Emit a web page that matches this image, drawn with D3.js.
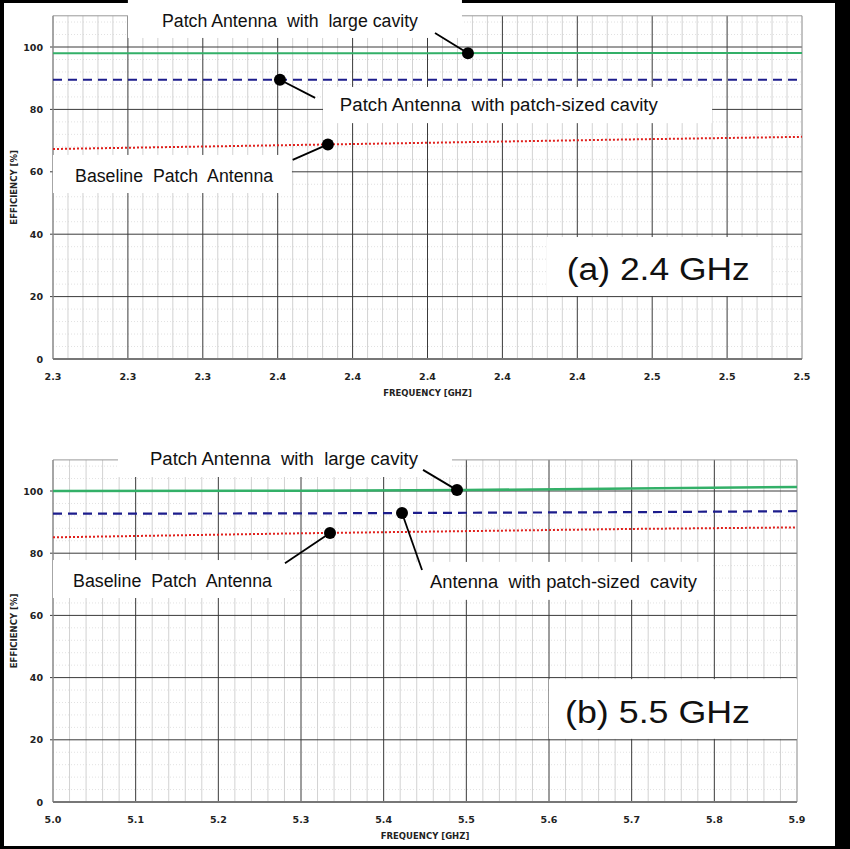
<!DOCTYPE html>
<html>
<head>
<meta charset="utf-8">
<script src="https://cdn.jsdelivr.net/npm/d3@7"></script>
<style>
  body { margin: 0; background: #000; }
  svg { display: block; }
  .tickLbl { font-family: "DejaVu Sans", Verdana, sans-serif; font-weight: bold; font-size: 9.5px; fill: #222; }
  .axTitle { font-family: "DejaVu Sans", Verdana, sans-serif; font-weight: bold; font-size: 8.5px; fill: #222; }
  .note { font-family: "Liberation Sans", Arial, sans-serif; font-size: 18px; fill: #111; white-space: pre; }
  .big { font-family: "Liberation Sans", Arial, sans-serif; font-size: 31px; fill: #111; }
</style>
</head>
<body>
<svg id="chart" width="850" height="849"></svg>
<script>
// ---- data, panel (a) 2.4 GHz ----
freqA = [2.30, 2.35, 2.40, 2.45, 2.50];
largeA = [98.0, 98.0, 98.0, 98.1, 98.1];
patchA = [89.5, 89.5, 89.5, 89.5, 89.5];
baseA = [67.3, 68.3, 69.3, 70.3, 71.2];
xTicksA = [2.30, 2.32, 2.34, 2.36, 2.38, 2.40, 2.42, 2.44, 2.46, 2.48, 2.50];

// ---- data, panel (b) 5.5 GHz ----
freqB = [5.0, 5.3, 5.5, 5.7, 5.9];
largeB = [100.0, 100.1, 100.3, 100.8, 101.3];
patchB = [92.7, 92.8, 93.0, 93.2, 93.5];
baseB = [85.1, 86.4, 87.1, 87.8, 88.3];
xTicksB = [5.0, 5.1, 5.2, 5.3, 5.4, 5.5, 5.6, 5.7, 5.8, 5.9];

yTicks = [0, 20, 40, 60, 80, 100];
yMax = 110;

seriesStyle = {
    large: { color: "#33b068", dash: null },
    patch: { color: "#1c1c8c", dash: "9,6" },
    base:  { color: "#e0201c", dash: "2,2" }
};

svg = d3.select("#chart");
svg.append("rect").attr("x", 4).attr("y", 3).attr("width", 831).attr("height", 843).attr("fill", "#fff");

function valueAt(freqs, vals, f) {
    return d3.scaleLinear().domain(freqs).range(vals)(f);
}

function drawPanel(p) {
    x = d3.scaleLinear().domain([p.ticks[0], p.ticks[p.ticks.length - 1]]).range([p.left, p.right]);
    y = d3.scaleLinear().domain([0, yMax]).range([p.bottom, p.bottom - yMax * p.unit]);
    g = svg.append("g");
    x0 = x.range()[0]; x1 = x.range()[1];

    // minor horizontal grid (dotted, faint)
    minorY = d3.range(4, yMax, 4).filter(v => v % 20 != 0);
    g.selectAll(".mh").data(minorY).enter().append("line")
        .attr("x1", x0).attr("x2", x1).attr("y1", d => y(d)).attr("y2", d => y(d))
        .attr("stroke", "#e2e2e2").attr("stroke-dasharray", "1,2");

    // minor vertical grid
    nMinor = (p.ticks.length - 1) * 5;
    minorX = d3.range(0, nMinor + 1).filter(i => i % 5 != 0)
        .map(i => p.ticks[0] + i * (p.ticks[1] - p.ticks[0]) / 5);
    g.selectAll(".mv").data(minorX).enter().append("line")
        .attr("x1", d => x(d)).attr("x2", d => x(d)).attr("y1", y(yMax)).attr("y2", y(0))
        .attr("stroke", "#d2d2d2");

    // major vertical grid
    g.selectAll(".Mv").data(p.ticks.slice(1, -1)).enter().append("line")
        .attr("x1", d => x(d)).attr("x2", d => x(d)).attr("y1", y(yMax)).attr("y2", y(0))
        .attr("stroke", "#3a3a3a");

    // major horizontal grid
    g.selectAll(".Mh").data(yTicks.slice(1)).enter().append("line")
        .attr("x1", x0 - 3).attr("x2", x1).attr("y1", d => y(d)).attr("y2", d => y(d))
        .attr("stroke", "#3a3a3a");

    // frame of the plot area
    g.append("line").attr("x1", x0).attr("x2", x1).attr("y1", y(yMax)).attr("y2", y(yMax)).attr("stroke", "#999");
    g.append("line").attr("x1", x1).attr("x2", x1).attr("y1", y(yMax)).attr("y2", y(0)).attr("stroke", "#888");
    g.append("line").attr("x1", x0).attr("x2", x0).attr("y1", y(yMax)).attr("y2", y(0)).attr("stroke", "#888").attr("stroke-width", 1.5);
    g.append("line").attr("x1", x0).attr("x2", x1).attr("y1", y(0)).attr("y2", y(0)).attr("stroke", "#777").attr("stroke-width", 2);

    // white label boxes
    g.selectAll(".box").data(p.boxes).enter().append("rect")
        .attr("x", d => x(d[0])).attr("y", d => y(d[3]))
        .attr("width", d => x(d[1]) - x(d[0])).attr("height", d => y(d[2]) - y(d[3]))
        .attr("fill", "#fff");

    // series
    p.series.forEach(s => {
        st = seriesStyle[s.key];
        g.append("path")
            .datum(p.freqs.map((f, i) => [f, s.vals[i]]))
            .attr("fill", "none")
            .attr("stroke", st.color)
            .attr("stroke-width", s.w)
            .attr("stroke-dasharray", st.dash)
            .attr("d", d3.line().x(d => x(d[0])).y(d => y(d[1])));
    });

    // annotations: leader line + dot + label
    p.notes.forEach(n => {
        s = p.series.find(q => q.key == n.key);
        dv = valueAt(p.freqs, s.vals, n.dot);
        g.append("line")
            .attr("x1", x(n.lead[0])).attr("y1", y(n.lead[1]))
            .attr("x2", x(n.dot)).attr("y2", y(dv))
            .attr("stroke", "#000").attr("stroke-width", 1.8);
        g.append("circle").attr("cx", x(n.dot)).attr("cy", y(dv)).attr("r", 6).attr("fill", "#000");
        g.append("text").attr("class", "note")
            .attr("x", x(n.at[0])).attr("y", y(n.at[1]))
            .attr("textLength", n.len).attr("lengthAdjust", "spacingAndGlyphs")
            .text(n.text);
    });

    g.append("text").attr("class", "big")
        .attr("x", x(p.title.at[0])).attr("y", y(p.title.at[1]))
        .attr("textLength", p.title.len).attr("lengthAdjust", "spacingAndGlyphs")
        .text(p.title.text);

    // tick labels
    g.selectAll(".yl").data(yTicks).enter().append("text").attr("class", "tickLbl")
        .attr("x", x0 - 10).attr("y", d => y(d) + 3.5).attr("text-anchor", "end")
        .text(d => d);
    g.selectAll(".xl").data(p.ticks).enter().append("text").attr("class", "tickLbl")
        .attr("x", d => x(d)).attr("y", y(0) + 21).attr("text-anchor", "middle")
        .text(d3.format(".1f"));

    // axis titles
    g.append("text").attr("class", "axTitle").attr("text-anchor", "middle")
        .attr("x", (x0 + x1) / 2).attr("y", y(0) + 37)
        .text("FREQUENCY [GHZ]");
    g.append("text").attr("class", "axTitle").attr("text-anchor", "middle")
        .attr("transform", "translate(17," + ((y(0) + y(yMax)) / 2) + ") rotate(-90)")
        .text("EFFICIENCY [%]");
}

drawPanel({
    left: 53, right: 802, bottom: 359, unit: 3.12,
    ticks: xTicksA, freqs: freqA,
    series: [{ key: "large", vals: largeA, w: 2 }, { key: "patch", vals: patchA, w: 2 }, { key: "base", vals: baseA, w: 2 }],
    boxes: [[2.3200, 2.4092, 102.9, 115.1], [2.3721, 2.4760, 75.6, 87.2],
            [2.3000, 2.3638, 53.2, 65.4], [2.4319, 2.4917, 20.2, 39.1]],
    notes: [
        { key: "large", dot: 2.4108, lead: [2.4020, 104.5], at: [2.3291, 106.4], len: 256, text: "Patch Antenna  with  large cavity" },
        { key: "patch", dot: 2.3606, lead: [2.3700, 83.7], at: [2.3766, 79.5], len: 318, text: "Patch Antenna  with patch-sized cavity" },
        { key: "base", dot: 2.3734, lead: [2.3640, 63.8], at: [2.3059, 56.7], len: 198, text: "Baseline  Patch  Antenna" }
    ],
    title: { text: "(a) 2.4 GHz", at: [2.4372, 25.3], len: 183 }
});

drawPanel({
    left: 53, right: 797, bottom: 802, unit: 3.11,
    ticks: xTicksB, freqs: freqB,
    series: [{ key: "large", vals: largeB, w: 2.6 }, { key: "patch", vals: patchB, w: 2.2 }, { key: "base", vals: baseB, w: 2 }],
    boxes: [[5.0786, 5.4827, 104.5, 116.4], [5.0000, 5.2867, 65.6, 77.8],
            [5.4319, 5.7972, 65.0, 77.2], [5.6000, 5.9000, 20.3, 39.5]],
    notes: [
        { key: "large", dot: 5.4887, lead: [5.4476, 106.8], at: [5.1173, 108.4], len: 268, text: "Patch Antenna  with  large cavity" },
        { key: "patch", dot: 5.4222, lead: [5.4464, 74.6], at: [5.4560, 68.8], len: 267, text: "Antenna  with patch-sized  cavity" },
        { key: "base", dot: 5.3351, lead: [5.2806, 76.8], at: [5.0242, 69.1], len: 199, text: "Baseline  Patch  Antenna" }
    ],
    title: { text: "(b) 5.5 GHz", at: [5.6194, 25.4], len: 185 }
});
</script>
</body>
</html>
